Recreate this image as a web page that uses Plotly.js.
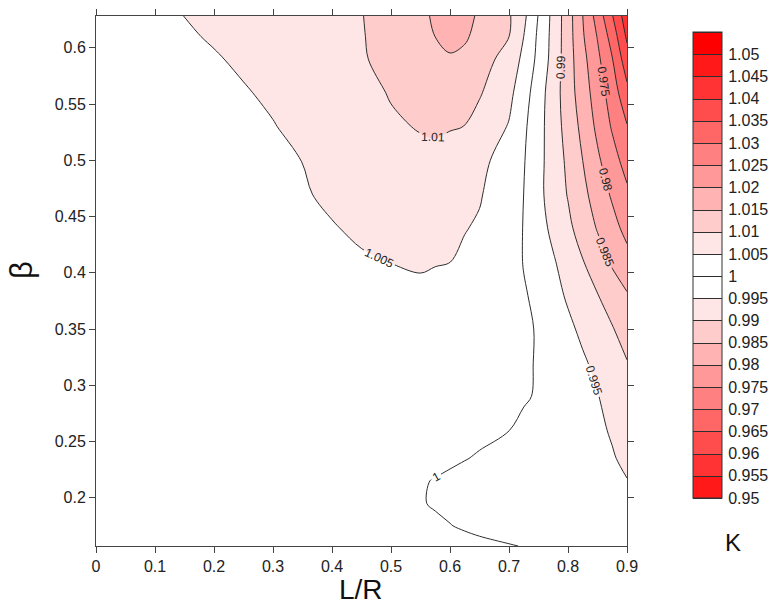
<!DOCTYPE html>
<html><head><meta charset="utf-8">
<script src="https://cdn.plot.ly/plotly-3.0.1.min.js"></script>
<style>html,body{margin:0;padding:0;background:#fff}#chart{width:770px;height:610px}</style>
</head><body><div id="chart"></div>
<script>
// L/R grid (columns) and beta grid (rows)
const lr = [0, 0.1, 0.15, 0.2, 0.25, 0.3, 0.35, 0.4, 0.45, 0.5, 0.55, 0.575, 0.6, 0.625, 0.65, 0.7, 0.725, 0.75, 0.775, 0.8, 0.825, 0.85, 0.875, 0.9];
const beta = [0.1571, 0.175, 0.195, 0.215, 0.235, 0.26, 0.29, 0.32, 0.35, 0.38, 0.41, 0.44, 0.47, 0.5, 0.53, 0.56, 0.59, 0.61, 0.6283];

// K values, one row per beta value
const k_0157 = [1.0017, 1.00172, 1.00173, 1.00174, 1.00175, 1.00176, 1.00177, 1.00178, 1.00179, 1.0018, 1.00139, 1.00118, 1.00098, 1.00078, 1.00057, 1.00016, 0.9999, 0.99942, 0.99893, 0.99844, 0.99796, 0.99747, 0.99699, 0.9965];
const k_0175 = [1.0017, 1.00174, 1.00177, 1.00179, 1.00181, 1.00183, 1.00186, 1.00188, 1.0019, 1.00129, 1.00068, 1.00037, 1.00007, 0.99973, 0.9994, 0.99872, 0.99838, 0.99804, 0.9977, 0.99736, 0.99702, 0.99668, 0.99634, 0.996];
const k_0195 = [1.0018, 1.00185, 1.00188, 1.0019, 1.00193, 1.00195, 1.00198, 1.002, 1.00138, 1.00076, 1.00014, 0.99981, 0.99948, 0.99915, 0.99882, 0.99815, 0.99782, 0.99749, 0.99716, 0.99682, 0.99649, 0.99616, 0.99583, 0.9955];
const k_0215 = [1.0018, 1.00185, 1.00188, 1.0019, 1.00193, 1.00195, 1.00198, 1.002, 1.0014, 1.00081, 1.00021, 0.99988, 0.99953, 0.99916, 0.99879, 0.99805, 0.99768, 0.99731, 0.99694, 0.99657, 0.99621, 0.99584, 0.99547, 0.9951];
const k_0235 = [1.0019, 1.00194, 1.00197, 1.00199, 1.00201, 1.00203, 1.00206, 1.00208, 1.0021, 1.00154, 1.00098, 1.0007, 1.00042, 1.0001, 0.99976, 0.99876, 0.99826, 0.99776, 0.99726, 0.99676, 0.99626, 0.99576, 0.99526, 0.9943];
const k_0260 = [1.002, 1.00206, 1.00209, 1.00212, 1.00215, 1.00218, 1.00221, 1.00224, 1.00227, 1.0023, 1.00173, 1.00145, 1.00117, 1.00088, 1.0006, 1.00003, 0.99934, 0.9986, 0.99784, 0.9971, 0.99635, 0.9956, 0.99468, 0.9931];
const k_0290 = [1.002, 1.00211, 1.00216, 1.00222, 1.00227, 1.00233, 1.00238, 1.00244, 1.00249, 1.00255, 1.0026, 1.00226, 1.00191, 1.00157, 1.00122, 1.0006, 1.0003, 0.99972, 0.9986, 0.99733, 0.99625, 0.99517, 0.9935, 0.9917];
const k_0320 = [1.002, 1.00218, 1.00227, 1.00236, 1.00245, 1.00255, 1.00264, 1.00273, 1.00282, 1.00291, 1.003, 1.0026, 1.00221, 1.00182, 1.00143, 1.0007, 1.00036, 0.9998, 0.9985, 0.99689, 0.99558, 0.99395, 0.99207, 0.9902];
const k_0350 = [1.0021, 1.00235, 1.00248, 1.00261, 1.00274, 1.00286, 1.00299, 1.00312, 1.00325, 1.00337, 1.0035, 1.00305, 1.00259, 1.00214, 1.00168, 1.0008, 1.0004, 0.99981, 0.9981, 0.99592, 0.99409, 0.9922, 0.9903, 0.9879];
const k_0380 = [1.0022, 1.00262, 1.00283, 1.00304, 1.00325, 1.00345, 1.00366, 1.00387, 1.00408, 1.00429, 1.0045, 1.0039, 1.00326, 1.00265, 1.00203, 1.00079, 1.00017, 0.99956, 0.99648, 0.99441, 0.99229, 0.99017, 0.9878, 0.9854];
const k_0410 = [1.0023, 1.00285, 1.00313, 1.0034, 1.00368, 1.00395, 1.00423, 1.0045, 1.00478, 1.00504, 1.00526, 1.0052, 1.00505, 1.0042, 1.00319, 1.00103, 0.99991, 0.99768, 0.99545, 0.99287, 0.99021, 0.9872, 0.98428, 0.9817];
const k_0440 = [1.0024, 1.00302, 1.00333, 1.00364, 1.00395, 1.00426, 1.00457, 1.00488, 1.00535, 1.00593, 1.0065, 1.0062, 1.00568, 1.0052, 1.00451, 1.00146, 0.99988, 0.99683, 0.99386, 0.99102, 0.9879, 0.98464, 0.98167, 0.9785];
const k_0470 = [1.0025, 1.00316, 1.00349, 1.00382, 1.00415, 1.00448, 1.00481, 1.00538, 1.00626, 1.00713, 1.008, 1.0075, 1.00668, 1.006, 1.00537, 1.00205, 0.99998, 0.99621, 0.99288, 0.98972, 0.98625, 0.98278, 0.97932, 0.9759];
const k_0500 = [1.0026, 1.00329, 1.00363, 1.00398, 1.00432, 1.00466, 1.00502, 1.00597, 1.00692, 1.00787, 1.00882, 1.0089, 1.00806, 1.0073, 1.00617, 1.00298, 1.00032, 0.99645, 0.99271, 0.98903, 0.98498, 0.98083, 0.97688, 0.9731];
const k_0530 = [1.0027, 1.00342, 1.00379, 1.00415, 1.00451, 1.00487, 1.00578, 1.00697, 1.00816, 1.00936, 1.01029, 1.0106, 1.0103, 1.00995, 1.00829, 1.0047, 1.00091, 0.99672, 0.99241, 0.9881, 0.98365, 0.97893, 0.9745, 0.9703];
const k_0560 = [1.0028, 1.00359, 1.00398, 1.00438, 1.00477, 1.0055, 1.00619, 1.00738, 1.00857, 1.01031, 1.01174, 1.012, 1.01197, 1.0115, 1.01041, 1.00622, 1.00217, 0.99722, 0.9924, 0.98729, 0.98241, 0.9776, 0.97265, 0.9664];
const k_0590 = [1.0029, 1.00383, 1.00429, 1.00475, 1.00548, 1.00652, 1.00756, 1.0086, 1.00965, 1.01117, 1.01293, 1.014, 1.0147, 1.0141, 1.01206, 1.00817, 1.0038, 0.9987, 0.9932, 0.98725, 0.9815, 0.9761, 0.9702, 0.962];
const k_0610 = [1.003, 1.00409, 1.00463, 1.00529, 1.00618, 1.00707, 1.00796, 1.00886, 1.00975, 1.01162, 1.01387, 1.01502, 1.0158, 1.01547, 1.01391, 1.01003, 1.00498, 0.99909, 0.99341, 0.98722, 0.98053, 0.97474, 0.96794, 0.9592];
const k_0628 = [1.003, 1.0044, 1.00502, 1.00585, 1.00665, 1.00745, 1.00825, 1.00905, 1.00986, 1.01186, 1.01414, 1.01554, 1.0168, 1.01629, 1.01438, 1.01054, 1.00609, 0.99975, 0.99357, 0.98722, 0.98002, 0.973, 0.9653, 0.957];

const kGrid = [k_0157, k_0175, k_0195, k_0215, k_0235, k_0260, k_0290, k_0320, k_0350, k_0380, k_0410, k_0440, k_0470, k_0500, k_0530, k_0560, k_0590, k_0610, k_0628];

// axis ticks
const xTicks = [0, 0.1, 0.2, 0.3, 0.4, 0.5, 0.6, 0.7, 0.8, 0.9];
const yTicks = [0.2, 0.25, 0.3, 0.35, 0.4, 0.45, 0.5, 0.55, 0.6];
const cbTickVals = [0.95, 0.955, 0.96, 0.965, 0.97, 0.975, 0.98, 0.985, 0.99, 0.995, 1, 1.005, 1.01, 1.015, 1.02, 1.025, 1.03, 1.035, 1.04, 1.045, 1.05];
const cbTickText = ['0.95', '0.955', '0.96', '0.965', '0.97', '0.975', '0.98', '0.985', '0.99', '0.995', '1', '1.005', '1.01', '1.015', '1.02', '1.025', '1.03', '1.035', '1.04', '1.045', '1.05'];

// colour for each of the 21 bands (0.95 .. 1.055): white near 1, red far from 1
const nBands = 21;
function bandColor(i) {
  const d = i <= 9 ? 9 - i : (i <= 19 ? i - 10 : 10);
  const g = Math.round(255 * (1 - d / 10));
  return 'rgb(255,' + g + ',' + g + ')';
}
const colorscale = [[0, bandColor(0)]];
for (let i = 0; i < nBands; i++) colorscale.push([(i + 0.5) / nBands, bandColor(i)]);
colorscale.push([1, bandColor(nBands - 1)]);

const font = 'Liberation Sans, Arial, sans-serif';

const trace = {
  type: 'contour',
  x: lr, y: beta, z: kGrid,
  zmin: 0.95, zmax: 1.05501, zauto: false,
  autocontour: false,
  contours: {
    start: 0.95, end: 1.05501, size: 0.005, coloring: 'fill',
    showlines: true, showlabels: true, labelformat: '.4~g',
    labelfont: {family: font, size: 12, color: '#222'}
  },
  line: {color: '#2e2e2e', width: 1, smoothing: 1},
  colorscale: colorscale,
  colorbar: {
    x: 1.1243, xanchor: 'left', xpad: 0,
    y: 0.5302, yanchor: 'middle', ypad: 0,
    len: 466, lenmode: 'pixels', thickness: 29, thicknessmode: 'pixels',
    outlinewidth: 1, outlinecolor: '#333',
    tickmode: 'array', tickvals: cbTickVals, ticktext: cbTickText,
    ticks: 'outside', ticklen: 3, tickcolor: 'rgba(0,0,0,0)',
    tickfont: {family: font, size: 16, color: '#222'}
  },
  hoverinfo: 'skip'
};

const axisCommon = {
  showgrid: false, zeroline: false, showline: true, mirror: 'ticks',
  linecolor: '#444', linewidth: 1, ticks: 'outside', ticklen: 6, tickcolor: '#444',
  tickfont: {family: font, size: 16, color: '#222'}
};

const layout = {
  width: 770, height: 610,
  margin: {l: 96, r: 143, t: 16, b: 64, autoexpand: false},
  paper_bgcolor: '#fff', plot_bgcolor: '#fff',
  showlegend: false,
  xaxis: Object.assign({}, axisCommon, {range: [0, 0.9], tickmode: 'array', tickvals: xTicks}),
  yaxis: Object.assign({}, axisCommon, {range: [0.1571, 0.6283], tickmode: 'array', tickvals: yTicks}),
  annotations: [
    {text: 'L/R', xref: 'paper', yref: 'paper', x: 0.499, y: -0.083,
     xanchor: 'center', yanchor: 'middle', showarrow: false,
     font: {family: font, size: 28, color: '#111'}},
    {text: 'β', xref: 'paper', yref: 'paper', x: -0.1394, y: 0.5208, textangle: -90,
     xanchor: 'center', yanchor: 'middle', showarrow: false,
     font: {family: font, size: 31, color: '#111'}},
    {text: 'K', xref: 'paper', yref: 'paper', x: 1.1996, y: 0.006,
     xanchor: 'center', yanchor: 'middle', showarrow: false,
     font: {family: font, size: 24, color: '#111'}}
  ]
};

Plotly.newPlot('chart', [trace], layout, {displayModeBar: false, staticPlot: true});
</script>
</body></html>
